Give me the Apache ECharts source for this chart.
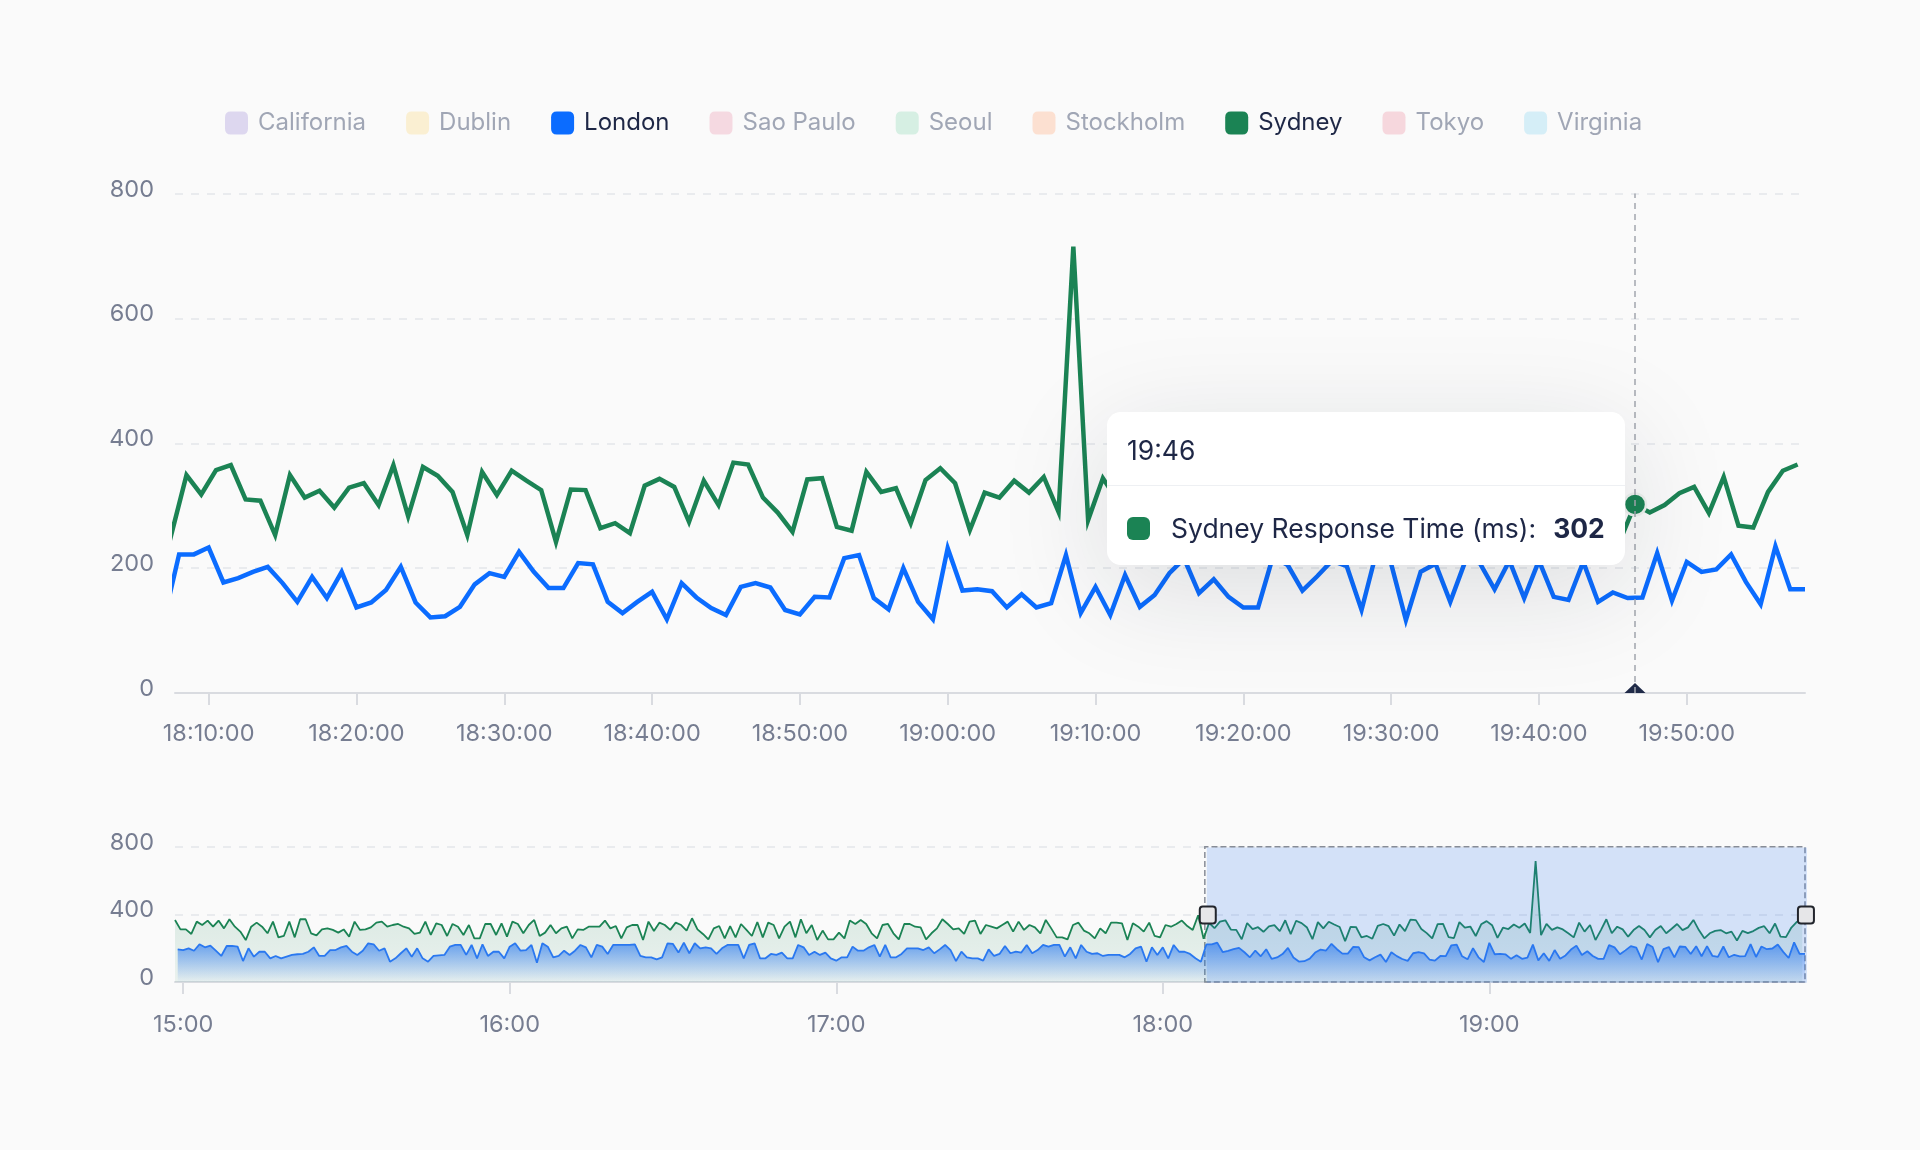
<!DOCTYPE html>
<html>
<head>
<meta charset="utf-8">
<script src="https://cdn.jsdelivr.net/npm/echarts@6/dist/echarts.min.js"></script>
<style>
  html, body { margin: 0; padding: 0; background: #fafafa; }
  #chart { width: 1920px; height: 1150px; }
</style>
</head>
<body>
<div id="chart"></div>
<script>
// ---------- data ----------
const regions = ['California', 'Dublin', 'London', 'Sao Paulo', 'Seoul', 'Stockholm', 'Sydney', 'Tokyo', 'Virginia'];
const regionColors = ['#8b7bd8', '#f2c14e', '#0b6cff', '#e0738f', '#3fbf86', '#f5894d', '#1b8354', '#e46478', '#3bbbe0'];
const regionInactiveColors = ['#ddd7ef', '#faefd2', '#cfe0ff', '#f5d9e1', '#d6efe3', '#fce0d1', '#cfe6da', '#f6d7dd', '#d5eef7'];
const activeRegions = ['London', 'Sydney'];

const dayOf = [2024, 0, 1];
const londonStart = '14:59:00';   // first London sample
const sydneyStart = '14:58:30';   // first Sydney sample
const sampleStepMs = 60 * 1000;

const londonValues = [
  193,189,199,185,223,205,215,185,154,213,
  213,209,124,199,150,179,179,140,154,140,
  150,160,164,166,179,205,154,154,189,189,
  205,213,179,160,185,229,223,185,199,120,
  140,170,199,150,199,140,120,154,158,160,
  209,219,219,160,219,140,223,154,179,179,
  140,209,229,185,189,219,114,229,209,146,
  154,185,160,185,219,205,146,219,209,166,
  219,219,219,219,223,154,146,146,134,146,
  229,225,174,233,170,229,199,205,199,166,
  199,219,219,219,140,219,229,140,140,166,
  160,174,140,140,219,205,160,179,160,174,
  140,126,146,146,209,185,185,205,219,150,
  219,146,146,166,199,199,199,189,205,170,
  193,219,189,124,179,146,140,140,126,193,
  154,166,
  213,170,179,174,219,170,189,219,209,219,
  219,150,205,140,219,179,166,170,154,160,
  160,160,146,166,199,209,120,205,160,205,
  140,219,179,179,166,140,120,
  222,222,233,177,184,194,202,176,146,186,
  152,194,137,145,165,202,145,121,123,138,
  174,192,186,226,194,168,168,208,206,146,
  128,146,162,118,176,153,136,125,170,176,
  169,133,126,154,153,216,221,152,134,200,
  146,118,232,164,166,163,137,158,137,144,
  221,128,170,125,189,138,157,192,215,160,
  182,154,137,137,218,205,164,187,212,203,
  133,225,207,117,194,207,146,210,208,166,
  212,152,212,154,149,210,146,161,152,153,
  224,148,210,194,198,222,178,142,235,166,
  166
];

const sydneyValues = [
  367,311,311,284,357,337,363,327,363,317,
  371,327,298,248,327,351,327,288,357,264,
  272,357,264,371,371,288,276,311,317,308,
  292,311,268,357,308,311,323,351,357,327,
  337,343,327,317,284,292,357,278,347,337,
  272,343,327,278,337,258,258,343,343,278,
  347,268,357,343,288,337,367,272,292,337,
  288,317,327,258,311,308,327,327,327,363,
  317,331,258,323,337,337,248,357,302,351,
  337,308,351,337,304,377,311,284,252,317,
  331,258,331,264,343,308,272,355,264,351,
  337,258,327,357,264,371,288,337,248,304,
  252,252,292,258,363,343,367,343,288,258,
  337,343,288,252,343,343,327,323,252,288,
  317,371,343,311,317,284,357,363,284,337,
  327,317,
  337,357,298,357,308,337,323,288,367,317,
  264,264,252,337,351,304,288,258,317,288,
  351,351,347,248,347,327,298,351,272,264,
  337,327,343,363,331,308,395,
  256,349,318,357,365,310,308,253,349,313,
  324,297,329,336,301,365,283,362,348,322,
  253,354,317,356,340,325,242,326,325,264,
  272,
  256,332,343,330,274,340,301,369,366,313,
  289,258,342,344,266,260,354,322,328,272,
  341,360,336,261,321,313,340,321,346,290,
  715,277,344,
  308,323,311,288,264,351,298,337,248,307,
  371,288,327,311,268,307,331,307,264,307,
  331,288,315,343,307,323,367,307,258,288,
  302,307,288,298,245,
  302,
  289,301,320,330,288,346,268,265,322,356,
  366
];

const mainTickLabels = ['18:10:00', '18:20:00', '18:30:00', '18:40:00', '18:50:00', '19:00:00',
  '19:10:00', '19:20:00', '19:30:00', '19:40:00', '19:50:00'];
const overviewTickLabels = ['15:00', '16:00', '17:00', '18:00', '19:00'];
const mainYTicks = { min: 0, max: 800, interval: 200 };
const overviewYTicks = { min: 0, max: 800, interval: 400 };
const zoomStartPercent = 63.18;
const zoomEndPercent = 100;
const tooltipSeries = 'Sydney';
const tooltipSampleTime = '19:46:30';

// ---------- build ----------
const FONT = 'Inter, "Noto Sans", sans-serif';
const toMs = s => {
  const p = s.split(':').map(Number);
  return new Date(dayOf[0], dayOf[1], dayOf[2], p[0], p[1], p[2] || 0).getTime();
};
const t0L = toMs(londonStart), t0S = toMs(sydneyStart);
const londonData = londonValues.map((v, i) => [t0L + i * sampleStepMs, v]);
const sydneyData = sydneyValues.map((v, i) => [t0S + i * sampleStepMs, v]);
const tMin = Math.min(londonData[0][0], sydneyData[0][0]);
const tMax = Math.max(londonData[londonData.length - 1][0], sydneyData[sydneyData.length - 1][0]);
const winStart = tMin + (tMax - tMin) * zoomStartPercent / 100;
const winEnd = tMin + (tMax - tMin) * zoomEndPercent / 100;
const tipTime = toMs(tooltipSampleTime);
const tipPoint = sydneyData.find(d => d[0] === tipTime);
const mainTickValues = mainTickLabels.map(toMs);
const overviewTickValues = overviewTickLabels.map(toMs);

const colorOf = name => regionColors[regions.indexOf(name)];
const pad2 = n => (n < 10 ? '0' : '') + n;

const AXIS_LABEL = '#767d91';
const GRID_LINE = '#e4e6ea';
const AXIS_LINE = '#d9dbe0';
const LABEL_SIZE = 23.5;

const series = [];
series.push({
  name: 'London', type: 'line', xAxisIndex: 0, yAxisIndex: 0,
  data: londonData, symbol: 'none', showSymbol: false,
  lineStyle: { width: 4.5, color: colorOf('London'), join: 'miter' },
  itemStyle: { color: colorOf('London') },
  emphasis: { disabled: true },
  z: 3
});
series.push({
  name: 'Sydney', type: 'line', xAxisIndex: 0, yAxisIndex: 0,
  data: sydneyData, symbol: 'none', showSymbol: false,
  lineStyle: { width: 4.5, color: colorOf('Sydney'), join: 'miter' },
  itemStyle: { color: colorOf('Sydney') },
  emphasis: { disabled: true },
  markPoint: {
    silent: true, animation: false,
    label: { show: false },
    data: [
      {
        coord: [tipTime, 0], symbol: 'triangle', symbolSize: [21, 10], symbolOffset: [0, -5],
        itemStyle: { color: '#1f2a48' }
      },
      {
        coord: tipPoint, symbol: 'circle', symbolSize: 22,
        itemStyle: { color: colorOf('Sydney'), borderColor: '#edf1ee', borderWidth: 2.5 }
      }
    ]
  },
  z: 4
});
regions.forEach(name => {
  if (activeRegions.indexOf(name) >= 0) return;
  series.push({
    name, type: 'line', xAxisIndex: 0, yAxisIndex: 0, data: [],
    showSymbol: false, lineStyle: { width: 4.5, color: colorOf(name) }, itemStyle: { color: colorOf(name) }
  });
});
series.push({
  name: 'Sydney', type: 'line', xAxisIndex: 1, yAxisIndex: 1,
  data: sydneyData, symbol: 'none', showSymbol: false, silent: true,
  lineStyle: { width: 1.8, color: colorOf('Sydney') },
  itemStyle: { color: colorOf('Sydney') },
  areaStyle: {
    color: new echarts.graphic.LinearGradient(0, 0, 0, 1, [
      { offset: 0, color: 'rgba(27,131,84,0.26)' },
      { offset: 1, color: 'rgba(27,131,84,0.10)' }
    ])
  },
  emphasis: { disabled: true },
  markArea: {
    silent: true, animation: false,
    itemStyle: { color: 'rgba(0,0,0,0)', borderColor: '#878c96', borderWidth: 1.5, borderType: 'dashed' },
    data: [[{ xAxis: winStart }, { xAxis: winEnd }]]
  }
});
series.push({
  name: 'London', type: 'line', xAxisIndex: 1, yAxisIndex: 1,
  data: londonData, symbol: 'none', showSymbol: false, silent: true,
  lineStyle: { width: 1.8, color: '#2a78f0' },
  itemStyle: { color: colorOf('London') },
  areaStyle: {
    color: new echarts.graphic.LinearGradient(0, 0, 0, 1, [
      { offset: 0, color: 'rgba(24,110,240,0.88)' },
      { offset: 1, color: 'rgba(24,110,240,0.02)' }
    ])
  },
  emphasis: { disabled: true }
});

const legendData = regions.map((name, i) => ({ name, inactiveColor: regionInactiveColors[i] }));
const legendSelected = {};
regions.forEach(n => { legendSelected[n] = activeRegions.indexOf(n) >= 0; });

const timeAxisCommon = (ticks, fmt, margin) => ({
  type: 'time', min: 'dataMin', max: 'dataMax',
  axisLine: { show: true, lineStyle: { color: AXIS_LINE, width: 2 } },
  axisTick: { show: true, length: 12, customValues: ticks, lineStyle: { color: AXIS_LINE, width: 2 } },
  splitLine: { show: false },
  axisLabel: { customValues: ticks, formatter: fmt, color: AXIS_LABEL, fontSize: LABEL_SIZE, fontFamily: FONT, margin, hideOverlap: false }
});
const valueAxisCommon = (t) => ({
  type: 'value', min: t.min, max: t.max, interval: t.interval,
  axisLine: { show: false }, axisTick: { show: false },
  splitLine: { show: true, lineStyle: { color: GRID_LINE, width: 1.5, type: [8, 8] } },
  axisLabel: {
    color: AXIS_LABEL, fontSize: LABEL_SIZE, fontFamily: FONT, margin: 21,
    verticalAlign: 'bottom', lineHeight: 8
  }
});

const option = {
  backgroundColor: '#fafafa',
  animation: false,
  textStyle: { fontFamily: FONT },
  legend: {
    data: legendData,
    selected: legendSelected,
    left: 220, top: 106,
    itemWidth: 23, itemHeight: 24, itemGap: 40,
    icon: 'path://M6 0H18Q24 0 24 6V18Q24 24 18 24H6Q0 24 0 18V6Q0 0 6 0Z',
    formatter: name => (activeRegions.indexOf(name) >= 0 ? '{on|' + name + '}' : '{off|' + name + '}'),
    textStyle: {
      fontSize: 24, fontFamily: FONT, padding: [0, 0, 0, 5],
      rich: {
        on: { color: '#1e2746', fontSize: 24, fontFamily: FONT },
        off: { color: '#a0a6b5', fontSize: 24, fontFamily: FONT }
      }
    }
  },
  grid: [
    { left: 175, right: 115, top: 193.5, height: 499.5, containLabel: false },
    { left: 175, right: 115, top: 846.7, height: 135.3, containLabel: false }
  ],
  xAxis: [
    Object.assign({ gridIndex: 0 }, timeAxisCommon(mainTickValues, '{HH}:{mm}:{ss}', 29)),
    Object.assign({ gridIndex: 1 }, timeAxisCommon(overviewTickValues, '{HH}:{mm}', 31))
  ],
  yAxis: [
    Object.assign({ gridIndex: 0 }, valueAxisCommon(mainYTicks)),
    Object.assign({ gridIndex: 1 }, valueAxisCommon(overviewYTicks))
  ],
  dataZoom: [{
    type: 'slider', xAxisIndex: 0, filterMode: 'none',
    start: zoomStartPercent, end: zoomEndPercent,
    left: 175, right: 115, top: 846.7, height: 135.3,
    backgroundColor: 'rgba(0,0,0,0)', borderColor: 'rgba(0,0,0,0)',
    fillerColor: 'rgba(40,118,240,0.19)',
    showDataShadow: false, showDetail: false, brushSelect: false,
    dataBackground: { lineStyle: { opacity: 0 }, areaStyle: { opacity: 0 } },
    selectedDataBackground: { lineStyle: { opacity: 0 }, areaStyle: { opacity: 0 } },
    handleIcon: 'path://M3 0H13Q16 0 16 3V14Q16 17 13 17H3Q0 17 0 14V3Q0 0 3 0Z',
    handleSize: 17,
    handleStyle: { color: '#e6e6e8', borderColor: '#22252c', borderWidth: 2, shadowBlur: 0 },
    moveHandleSize: 0,
    moveHandleStyle: { opacity: 0 },
    emphasis: {
      handleStyle: { color: '#e6e6e8', borderColor: '#22252c', borderWidth: 2 },
      moveHandleStyle: { opacity: 0 }
    },
    z: 10
  }],
  tooltip: {
    trigger: 'axis',
    triggerOn: 'none',
    alwaysShowContent: true,
    transitionDuration: 0,
    confine: false,
    padding: 0,
    backgroundColor: '#ffffff',
    borderWidth: 0,
    borderRadius: 14,
    extraCssText: 'box-shadow: 0 24px 110px rgba(20,28,50,0.13); border-radius: 14px; overflow: hidden;',
    axisPointer: {
      type: 'line', snap: true,
      lineStyle: { color: '#a3a7af', width: 1.5, type: [6, 5] },
      label: { show: false }
    },
    position: (point, params, dom, rect, size) =>
      [point[0] - size.contentSize[0] - 10, point[1] - size.contentSize[1] / 2 - 16],
    formatter: params => {
      const p = params.find(q => q.seriesName === tooltipSeries && q.seriesIndex === 1) || params[0];
      const d = new Date(p.value[0]);
      const color = colorOf(p.seriesName);
      return '<div style="font-family:Inter,sans-serif;color:#1e2746;">' +
        '<div style="padding:20px 20px 17px;font-size:26.5px;line-height:36px;border-bottom:1px solid #eef0f3;">' +
        pad2(d.getHours()) + ':' + pad2(d.getMinutes()) + '</div>' +
        '<div style="padding:24px 20px 19px;font-size:26.5px;line-height:36px;white-space:nowrap;display:flex;align-items:center;">' +
        '<span style="display:inline-block;width:23px;height:23px;border-radius:6px;background:' + color + ';margin-right:21px;"></span>' +
        '<span>' + p.seriesName + ' Response Time (ms):</span>' +
        '<span style="font-weight:700;margin-left:17px;">' + p.value[1] + '</span></div></div>';
    }
  },
  series
};

const chart = echarts.init(document.getElementById('chart'), null, { renderer: 'canvas' });
chart.setOption(option);

function showTip() {
  const px = chart.convertToPixel({ xAxisIndex: 0, yAxisIndex: 0 }, tipPoint);
  chart.dispatchAction({ type: 'showTip', x: px[0], y: px[1] });
}
showTip();
setTimeout(showTip, 50);
</script>
</body>
</html>
